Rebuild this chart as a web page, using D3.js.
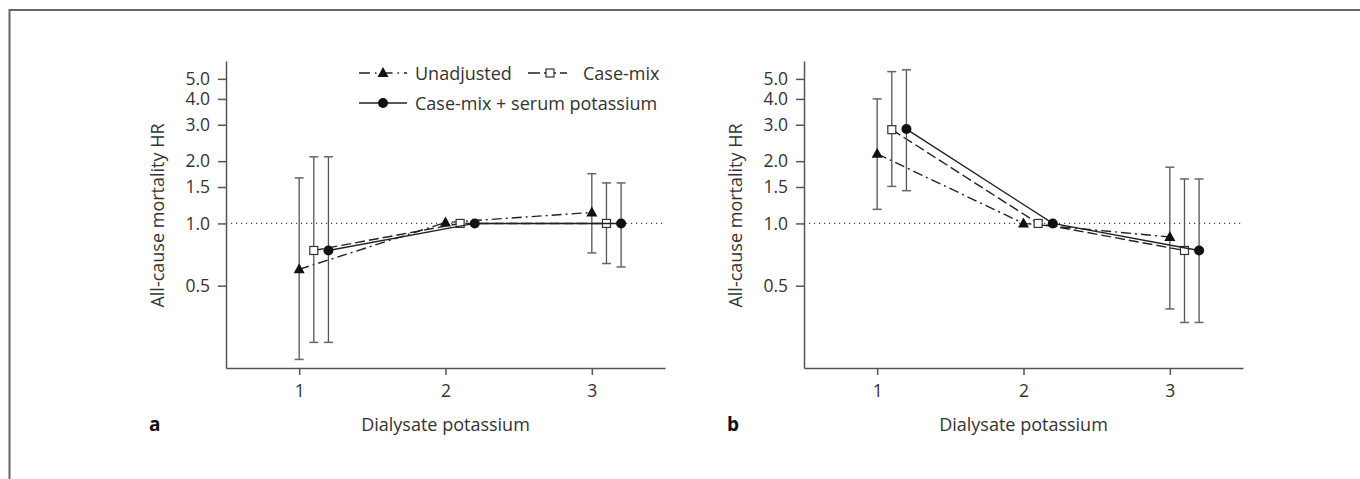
<!DOCTYPE html>
<html>
<head>
<meta charset="utf-8">
<script src="https://cdn.jsdelivr.net/npm/d3@7"></script>
<style>
  body { margin: 0; background: #fff; }
  text { font-family: "Open Sans", "Noto Sans", sans-serif; fill: #333; }
  .axis path, .axis line { stroke: #555; stroke-width: 1.5; }
  .axis text { font-size: 17.5px; fill: #333; font-family: "Open Sans", "Noto Sans", sans-serif; }
</style>
</head>
<body>
<div id="chart"></div>
<script>
// categories on the x axis (dialysate potassium groups)
var categories = [1, 2, 3];
var yTicks = [0.5, 1.0, 1.5, 2.0, 3.0, 4.0, 5.0];
var seriesNames = ["Unadjusted", "Case-mix", "Case-mix + serum potassium"];

// panel a
var unadjA = [0.60, 1.01, 1.13];
var unadjALo = [0.22, null, 0.72];
var unadjAHi = [1.66, null, 1.74];
var caseA = [0.74, 1.00, 1.00];
var caseALo = [0.266, null, 0.64];
var caseAHi = [2.10, null, 1.57];
var potA = [0.74, 1.00, 1.00];
var potALo = [0.266, null, 0.616];
var potAHi = [2.10, null, 1.57];

// panel b
var unadjB = [2.17, 1.00, 0.86];
var unadjBLo = [1.17, null, 0.386];
var unadjBHi = [4.00, null, 1.87];
var caseB = [2.84, 1.00, 0.74];
var caseBLo = [1.51, null, 0.332];
var caseBHi = [5.42, null, 1.64];
var potB = [2.86, 1.00, 0.74];
var potBLo = [1.44, null, 0.332];
var potBHi = [5.53, null, 1.64];

var width = 1360, height = 479;

var svg = d3.select('#chart').append('svg')
  .attr('width', width)
  .attr('height', height);

// frame lines (top and left)
svg.append('path')
  .attr('d', 'M9.5,479 L9.5,10 L1360,10')
  .attr('fill', 'none')
  .attr('stroke', '#666')
  .attr('stroke-width', 2);

// series styles
var styles = [
  { dash: '10,4,2,4', dodge: 0,   symbol: 'triangle' },
  { dash: '10,4',     dodge: 0.1, symbol: 'square' },
  { dash: null,       dodge: 0.2, symbol: 'circle' }
];

function drawPanel(left, letter, series) {
  var top = 61, bottom = 368, right = left + 439;

  var x = d3.scaleLinear().domain([0.5, 3.5]).range([left, right]);
  var y = d3.scaleLog().domain([0.2, 6.1]).range([bottom, top]);

  var g = svg.append('g');

  // reference line at HR = 1
  g.append('line')
    .attr('x1', left).attr('x2', right)
    .attr('y1', y(1)).attr('y2', y(1))
    .attr('stroke', '#444')
    .attr('stroke-width', 1.2)
    .attr('stroke-dasharray', '1.2,3.8');

  g.append('g')
    .attr('class', 'axis')
    .attr('transform', 'translate(' + left + ',0)')
    .call(d3.axisLeft(y).tickValues(yTicks).tickFormat(d3.format('.1f')).tickSize(8).tickSizeOuter(0).tickPadding(8));

  g.append('g')
    .attr('class', 'axis')
    .attr('transform', 'translate(0,' + bottom + ')')
    .call(d3.axisBottom(x).tickValues(categories).tickFormat(d3.format('d')).tickSize(7).tickSizeOuter(0).tickPadding(10));

  // axis titles
  g.append('text')
    .attr('transform', 'translate(' + (left - 62) + ',' + ((top + bottom) / 2 + 1) + ') rotate(-90)')
    .attr('text-anchor', 'middle')
    .style('font-size', '18px')
    .text('All-cause mortality HR');

  g.append('text')
    .attr('x', x(2))
    .attr('y', 431)
    .attr('text-anchor', 'middle')
    .style('font-size', '18px')
    .text('Dialysate potassium');

  g.append('text')
    .attr('x', left - 77)
    .attr('y', 431)
    .style('font-size', '19px')
    .style('font-weight', 'bold')
    .style('fill', '#111')
    .text(letter);

  series.forEach(function(s, si) {
    var st = styles[si];
    var pts = categories.map(function(c, i) {
      return { x: c + st.dodge, v: s.vals[i], lo: s.lo[i], hi: s.hi[i] };
    });

    // error bars
    pts.filter(function(d) { return d.lo != null; }).forEach(function(d) {
      var cx = x(d.x);
      g.append('line')
        .attr('x1', cx).attr('x2', cx)
        .attr('y1', y(d.lo)).attr('y2', y(d.hi))
        .attr('stroke', '#555').attr('stroke-width', 1.3);
      [d.lo, d.hi].forEach(function(e) {
        g.append('line')
          .attr('x1', cx - 4.5).attr('x2', cx + 4.5)
          .attr('y1', y(e)).attr('y2', y(e))
          .attr('stroke', '#666').attr('stroke-width', 1.5);
      });
    });

    // connecting line
    var line = d3.line()
      .x(function(d) { return x(d.x); })
      .y(function(d) { return y(d.v); });
    g.append('path')
      .datum(pts)
      .attr('d', line)
      .attr('fill', 'none')
      .attr('stroke', '#222')
      .attr('stroke-width', 1.4)
      .attr('stroke-dasharray', st.dash);

    pts.forEach(function(d) {
      drawSymbol(g, st.symbol, x(d.x), y(d.v));
    });
  });
}

function drawSymbol(g, type, cx, cy) {
  if (type === 'triangle') {
    g.append('path')
      .attr('d', 'M' + cx + ',' + (cy - 6) + ' L' + (cx + 5.5) + ',' + (cy + 4) + ' L' + (cx - 5.5) + ',' + (cy + 4) + ' Z')
      .attr('fill', '#111');
  } else if (type === 'square') {
    g.append('rect')
      .attr('x', cx - 4).attr('y', cy - 4)
      .attr('width', 8).attr('height', 8)
      .attr('fill', '#fff').attr('stroke', '#333').attr('stroke-width', 1.2);
  } else {
    g.append('circle')
      .attr('cx', cx).attr('cy', cy).attr('r', 5)
      .attr('fill', '#111');
  }
}

drawPanel(226, 'a', [
  { vals: unadjA, lo: unadjALo, hi: unadjAHi },
  { vals: caseA, lo: caseALo, hi: caseAHi },
  { vals: potA, lo: potALo, hi: potAHi }
]);

drawPanel(804, 'b', [
  { vals: unadjB, lo: unadjBLo, hi: unadjBHi },
  { vals: caseB, lo: caseBLo, hi: caseBHi },
  { vals: potB, lo: potBLo, hi: potBHi }
]);

// legend (panel a)
var legend = svg.append('g');
var legendItems = [
  { x1: 359, x2: 407, y: 73, sym: 0, tx: 415 },
  { x1: 528, x2: 567, y: 73, sym: 1, tx: 583 },
  { x1: 359, x2: 407, y: 103, sym: 2, tx: 415 }
];
legendItems.forEach(function(it, i) {
  legend.append('line')
    .attr('x1', it.x1).attr('x2', it.x2)
    .attr('y1', it.y).attr('y2', it.y)
    .attr('stroke', '#222').attr('stroke-width', 1.3)
    .attr('stroke-dasharray', i === 0 ? '11,5,1.5,5' : (i === 1 ? '12,4' : null));
  drawSymbol(legend, styles[it.sym].symbol, i === 1 ? 550 : 383, it.y);
  legend.append('text')
    .attr('x', it.tx).attr('y', it.y + 6.5)
    .style('font-size', '18px')
    .text(seriesNames[it.sym]);
});
</script>
</body>
</html>
